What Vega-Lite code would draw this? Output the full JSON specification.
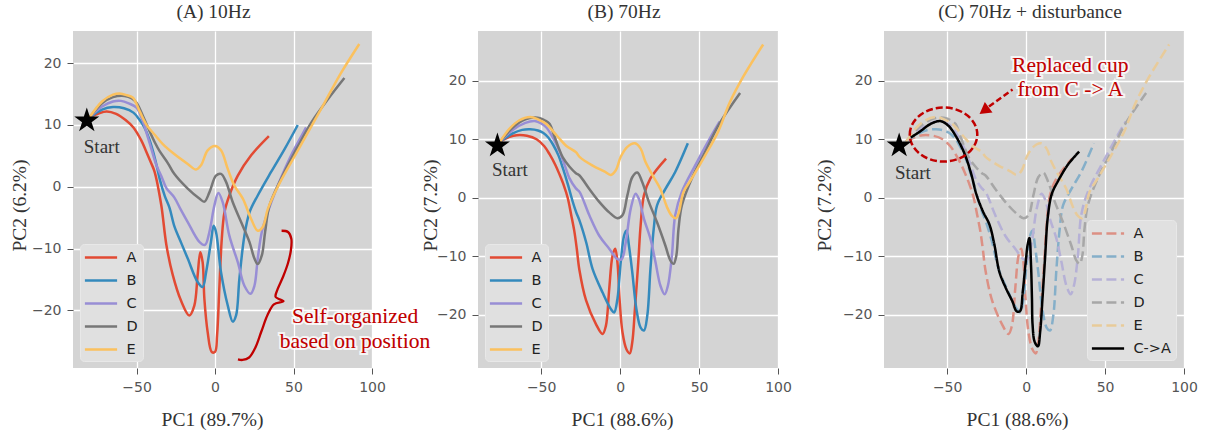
{
"$schema": "https://vega.github.io/schema/vega-lite/v6.json",
"background": "white",
"padding": {"left": 9, "top": 1, "right": 5, "bottom": 5},
"config": {
  "view": {"fill": "#d4d4d4", "stroke": null},
  "axis": {"labelFont": "DejaVu Sans", "labelFontSize": 14, "labelColor": "#555", "tickColor": "#555", "tickSize": 6, "labelPadding": 6, "labelFlush": false, "domain": false, "gridColor": "white", "gridWidth": 1.3, "titleFont": "Liberation Serif", "titleFontSize": 19.5, "titleFontWeight": "normal", "titleColor": "#333"},
  "title": {"font": "Liberation Serif", "fontSize": 19.5, "fontWeight": "normal", "color": "#333", "offset": 9},
  "legend": {"fillColor": "#e0e0e0", "strokeColor": "#e8e8e8", "cornerRadius": 4, "padding": 5, "symbolType": "M-2.3,0L2.3,0", "symbolSize": 196, "symbolOffset": 7.5, "symbolStrokeWidth": 2.5, "labelFont": "DejaVu Sans", "labelFontSize": 14.5, "labelColor": "#222", "rowPadding": 8, "labelOffset": 17},
  "line": {"strokeWidth": 2.5, "interpolate": "catmull-rom"}
},
"datasets": {
 "A10": [
{"s":"A","i":0,"x":-80,"y":11.2},{"s":"A","i":1,"x":-74,"y":11.9},{"s":"A","i":2,"x":-69,"y":12.2},{"s":"A","i":3,"x":-63,"y":11.8},{"s":"A","i":4,"x":-57,"y":10.8},{"s":"A","i":5,"x":-52,"y":9.6},{"s":"A","i":6,"x":-47,"y":7.5},{"s":"A","i":7,"x":-44,"y":5.8},{"s":"A","i":8,"x":-41,"y":4},{"s":"A","i":9,"x":-38.6,"y":2.5},{"s":"A","i":10,"x":-34.3,"y":-2.9},{"s":"A","i":11,"x":-31,"y":-9.4},{"s":"A","i":12,"x":-27,"y":-14.2},{"s":"A","i":13,"x":-21.7,"y":-18.4},{"s":"A","i":14,"x":-16.4,"y":-20.8},{"s":"A","i":15,"x":-13.2,"y":-19.2},{"s":"A","i":16,"x":-11.1,"y":-14.3},{"s":"A","i":17,"x":-9.4,"y":-10.6},{"s":"A","i":18,"x":-7.9,"y":-12.2},{"s":"A","i":19,"x":-6.8,"y":-18.1},{"s":"A","i":20,"x":-4.7,"y":-23.5},{"s":"A","i":21,"x":-2.1,"y":-26.7},{"s":"A","i":22,"x":0,"y":-26.7},{"s":"A","i":23,"x":1.3,"y":-24},{"s":"A","i":24,"x":2.8,"y":-16},{"s":"A","i":25,"x":4.3,"y":-8.4},{"s":"A","i":26,"x":6,"y":-4.1},{"s":"A","i":27,"x":9.1,"y":-1.4},{"s":"A","i":28,"x":14.5,"y":1.8},{"s":"A","i":29,"x":23,"y":5.1},{"s":"A","i":30,"x":34.3,"y":8.2},
{"s":"B","i":0,"x":-80,"y":11.2},{"s":"B","i":1,"x":-72,"y":12.5},{"s":"B","i":2,"x":-65,"y":12.9},{"s":"B","i":3,"x":-58,"y":12.7},{"s":"B","i":4,"x":-52,"y":12},{"s":"B","i":5,"x":-48,"y":10.8},{"s":"B","i":6,"x":-45,"y":9.6},{"s":"B","i":7,"x":-42,"y":7.8},{"s":"B","i":8,"x":-39.6,"y":5.8},{"s":"B","i":9,"x":-37,"y":3.2},{"s":"B","i":10,"x":-35,"y":1},{"s":"B","i":11,"x":-32,"y":-1.5},{"s":"B","i":12,"x":-29,"y":-3.4},{"s":"B","i":13,"x":-26,"y":-6.3},{"s":"B","i":14,"x":-22,"y":-8.8},{"s":"B","i":15,"x":-17.4,"y":-11.6},{"s":"B","i":16,"x":-11.1,"y":-15.4},{"s":"B","i":17,"x":-7.9,"y":-16.2},{"s":"B","i":18,"x":-5.7,"y":-13.8},{"s":"B","i":19,"x":-2.6,"y":-8.9},{"s":"B","i":20,"x":-0.9,"y":-6.3},{"s":"B","i":21,"x":0.6,"y":-7.3},{"s":"B","i":22,"x":3.8,"y":-13.8},{"s":"B","i":23,"x":8.1,"y":-19.2},{"s":"B","i":24,"x":11.3,"y":-21.8},{"s":"B","i":25,"x":13.4,"y":-20.8},{"s":"B","i":26,"x":15.5,"y":-14.9},{"s":"B","i":27,"x":18.7,"y":-7.9},{"s":"B","i":28,"x":22,"y":-4.1},{"s":"B","i":29,"x":27.2,"y":-1.4},{"s":"B","i":30,"x":35.7,"y":2.4},{"s":"B","i":31,"x":44.3,"y":6.1},{"s":"B","i":32,"x":52.7,"y":10},
{"s":"C","i":0,"x":-80,"y":11.2},{"s":"C","i":1,"x":-72,"y":13},{"s":"C","i":2,"x":-65,"y":13.8},{"s":"C","i":3,"x":-60,"y":13.9},{"s":"C","i":4,"x":-55,"y":13.5},{"s":"C","i":5,"x":-50,"y":12.8},{"s":"C","i":6,"x":-46,"y":10.6},{"s":"C","i":7,"x":-44,"y":9},{"s":"C","i":8,"x":-41,"y":6.5},{"s":"C","i":9,"x":-37.5,"y":3.6},{"s":"C","i":10,"x":-34,"y":1.6},{"s":"C","i":11,"x":-31,"y":-0.2},{"s":"C","i":12,"x":-26,"y":-1.7},{"s":"C","i":13,"x":-22,"y":-3.6},{"s":"C","i":14,"x":-17.4,"y":-5.7},{"s":"C","i":15,"x":-10,"y":-8.9},{"s":"C","i":16,"x":-6.4,"y":-9.4},{"s":"C","i":17,"x":-3.6,"y":-7.3},{"s":"C","i":18,"x":-0.4,"y":-3},{"s":"C","i":19,"x":2.1,"y":-1},{"s":"C","i":20,"x":4.9,"y":-2.5},{"s":"C","i":21,"x":9.1,"y":-7.9},{"s":"C","i":22,"x":14.5,"y":-12.2},{"s":"C","i":23,"x":18.7,"y":-16},{"s":"C","i":24,"x":22.6,"y":-17.3},{"s":"C","i":25,"x":25.1,"y":-16},{"s":"C","i":26,"x":27.2,"y":-11.6},{"s":"C","i":27,"x":29.8,"y":-7.3},{"s":"C","i":28,"x":33.6,"y":-4.1},{"s":"C","i":29,"x":40,"y":0.2},{"s":"C","i":30,"x":48.5,"y":5.1},{"s":"C","i":31,"x":55.2,"y":8.3},{"s":"C","i":32,"x":58,"y":9.6},
{"s":"D","i":0,"x":-80,"y":11.2},{"s":"D","i":1,"x":-72,"y":13.5},{"s":"D","i":2,"x":-65,"y":14.5},{"s":"D","i":3,"x":-57.6,"y":14.7},{"s":"D","i":4,"x":-53,"y":14.3},{"s":"D","i":5,"x":-50,"y":13.6},{"s":"D","i":6,"x":-46,"y":11.5},{"s":"D","i":7,"x":-41.7,"y":9},{"s":"D","i":8,"x":-38,"y":7},{"s":"D","i":9,"x":-35.4,"y":5.8},{"s":"D","i":10,"x":-30,"y":3.8},{"s":"D","i":11,"x":-26,"y":2.1},{"s":"D","i":12,"x":-17.4,"y":-0.3},{"s":"D","i":13,"x":-10,"y":-1.9},{"s":"D","i":14,"x":-6.8,"y":-2.4},{"s":"D","i":15,"x":-3.6,"y":-0.9},{"s":"D","i":16,"x":0.6,"y":1.8},{"s":"D","i":17,"x":3.8,"y":2.1},{"s":"D","i":18,"x":7,"y":0.8},{"s":"D","i":19,"x":11.3,"y":-2.5},{"s":"D","i":20,"x":16.6,"y":-5.7},{"s":"D","i":21,"x":21.9,"y":-8.9},{"s":"D","i":22,"x":25.1,"y":-11.6},{"s":"D","i":23,"x":27.2,"y":-12.5},{"s":"D","i":24,"x":29.8,"y":-11.1},{"s":"D","i":25,"x":31.9,"y":-7.3},{"s":"D","i":26,"x":34.7,"y":-3},{"s":"D","i":27,"x":42.1,"y":1.3},{"s":"D","i":28,"x":53.1,"y":6.7},{"s":"D","i":29,"x":61.6,"y":10.5},{"s":"D","i":30,"x":72,"y":14.2},{"s":"D","i":31,"x":82.4,"y":17.6},
{"s":"E","i":0,"x":-80,"y":11.2},{"s":"E","i":1,"x":-72,"y":13.8},{"s":"E","i":2,"x":-65,"y":14.9},{"s":"E","i":3,"x":-60.8,"y":15.1},{"s":"E","i":4,"x":-56,"y":14.8},{"s":"E","i":5,"x":-52.3,"y":14.4},{"s":"E","i":6,"x":-48,"y":12.2},{"s":"E","i":7,"x":-43.9,"y":10.1},{"s":"E","i":8,"x":-38,"y":8.3},{"s":"E","i":9,"x":-33.3,"y":6.9},{"s":"E","i":10,"x":-26,"y":5.3},{"s":"E","i":11,"x":-17.4,"y":3.7},{"s":"E","i":12,"x":-12.1,"y":2.8},{"s":"E","i":13,"x":-8.9,"y":3.5},{"s":"E","i":14,"x":-4.7,"y":5.9},{"s":"E","i":15,"x":0,"y":6.6},{"s":"E","i":16,"x":3.8,"y":5.9},{"s":"E","i":17,"x":8.1,"y":2.9},{"s":"E","i":18,"x":12.3,"y":0.2},{"s":"E","i":19,"x":17.7,"y":-1.9},{"s":"E","i":20,"x":23,"y":-5.2},{"s":"E","i":21,"x":27.2,"y":-7.1},{"s":"E","i":22,"x":30.4,"y":-6.5},{"s":"E","i":23,"x":33.6,"y":-3.6},{"s":"E","i":24,"x":40.3,"y":0.2},{"s":"E","i":25,"x":51,"y":5.1},{"s":"E","i":26,"x":61.6,"y":9.9},{"s":"E","i":27,"x":70,"y":13.7},{"s":"E","i":28,"x":80,"y":18.3},{"s":"E","i":29,"x":91.9,"y":23.1}
 ],
 "B70": [
{"s":"A","i":0,"x":-76,"y":9.6},{"s":"A","i":1,"x":-70,"y":10.4},{"s":"A","i":2,"x":-65.4,"y":10.7},{"s":"A","i":3,"x":-59,"y":10.6},{"s":"A","i":4,"x":-52.9,"y":10},{"s":"A","i":5,"x":-48,"y":8.8},{"s":"A","i":6,"x":-44.6,"y":7.4},{"s":"A","i":7,"x":-41,"y":5.6},{"s":"A","i":8,"x":-38.4,"y":4},{"s":"A","i":9,"x":-35.5,"y":2},{"s":"A","i":10,"x":-33.2,"y":0},{"s":"A","i":11,"x":-31,"y":-2.9},{"s":"A","i":12,"x":-29,"y":-5.7},{"s":"A","i":13,"x":-27.4,"y":-8.8},{"s":"A","i":14,"x":-25.8,"y":-12.3},{"s":"A","i":15,"x":-21.6,"y":-17.5},{"s":"A","i":16,"x":-15.3,"y":-21.6},{"s":"A","i":17,"x":-11.1,"y":-23.3},{"s":"A","i":18,"x":-9,"y":-21.9},{"s":"A","i":19,"x":-6.9,"y":-15.6},{"s":"A","i":20,"x":-4.8,"y":-9.9},{"s":"A","i":21,"x":-3.1,"y":-8.7},{"s":"A","i":22,"x":-1.7,"y":-11},{"s":"A","i":23,"x":-0.2,"y":-17.9},{"s":"A","i":24,"x":1.5,"y":-23},{"s":"A","i":25,"x":4,"y":-25.9},{"s":"A","i":26,"x":6.1,"y":-26.6},{"s":"A","i":27,"x":7.7,"y":-24.7},{"s":"A","i":28,"x":9.4,"y":-19},{"s":"A","i":29,"x":11.5,"y":-11},{"s":"A","i":30,"x":13,"y":-4.7},{"s":"A","i":31,"x":15.1,"y":0.4},{"s":"A","i":32,"x":19.2,"y":3.3},{"s":"A","i":33,"x":29.1,"y":6.7},
{"s":"B","i":0,"x":-76,"y":9.6},{"s":"B","i":1,"x":-68,"y":11},{"s":"B","i":2,"x":-62,"y":11.6},{"s":"B","i":3,"x":-57,"y":11.7},{"s":"B","i":4,"x":-52,"y":11.5},{"s":"B","i":5,"x":-48.8,"y":11.1},{"s":"B","i":6,"x":-45.5,"y":10.3},{"s":"B","i":7,"x":-42.5,"y":9.1},{"s":"B","i":8,"x":-39,"y":7.2},{"s":"B","i":9,"x":-36.3,"y":5.1},{"s":"B","i":10,"x":-33,"y":2.2},{"s":"B","i":11,"x":-30.1,"y":-0.6},{"s":"B","i":12,"x":-27.8,"y":-2.5},{"s":"B","i":13,"x":-25.7,"y":-3.9},{"s":"B","i":14,"x":-21.5,"y":-7.6},{"s":"B","i":15,"x":-17.4,"y":-12.2},{"s":"B","i":16,"x":-11.1,"y":-16.2},{"s":"B","i":17,"x":-5.9,"y":-19},{"s":"B","i":18,"x":-3.8,"y":-19.6},{"s":"B","i":19,"x":-1.7,"y":-17.3},{"s":"B","i":20,"x":0.4,"y":-11},{"s":"B","i":21,"x":2.5,"y":-6.5},{"s":"B","i":22,"x":4,"y":-5.6},{"s":"B","i":23,"x":5.6,"y":-8.2},{"s":"B","i":24,"x":7.7,"y":-12.7},{"s":"B","i":25,"x":10.3,"y":-19},{"s":"B","i":26,"x":13,"y":-22.2},{"s":"B","i":27,"x":15.1,"y":-22.7},{"s":"B","i":28,"x":17.2,"y":-20.2},{"s":"B","i":29,"x":19.2,"y":-12.2},{"s":"B","i":30,"x":21.3,"y":-5.3},{"s":"B","i":31,"x":23.4,"y":-1.3},{"s":"B","i":32,"x":28.7,"y":1.5},{"s":"B","i":33,"x":34.9,"y":4.4},{"s":"B","i":34,"x":42.9,"y":9.3},
{"s":"C","i":0,"x":-76,"y":9.6},{"s":"C","i":1,"x":-68,"y":11.6},{"s":"C","i":2,"x":-60,"y":12.8},{"s":"C","i":3,"x":-54,"y":13.1},{"s":"C","i":4,"x":-50,"y":12.7},{"s":"C","i":5,"x":-46.7,"y":12},{"s":"C","i":6,"x":-42,"y":10},{"s":"C","i":7,"x":-38.4,"y":8},{"s":"C","i":8,"x":-35,"y":5.5},{"s":"C","i":9,"x":-32.2,"y":3.4},{"s":"C","i":10,"x":-28,"y":1.6},{"s":"C","i":11,"x":-25.7,"y":1},{"s":"C","i":12,"x":-19.5,"y":-3},{"s":"C","i":13,"x":-13.2,"y":-6.5},{"s":"C","i":14,"x":-6.9,"y":-8.7},{"s":"C","i":15,"x":-1.7,"y":-10.5},{"s":"C","i":16,"x":1,"y":-10.5},{"s":"C","i":17,"x":3.6,"y":-7.6},{"s":"C","i":18,"x":6.7,"y":-1.9},{"s":"C","i":19,"x":9.8,"y":0.7},{"s":"C","i":20,"x":11.9,"y":-0.2},{"s":"C","i":21,"x":15.1,"y":-3.6},{"s":"C","i":22,"x":19.2,"y":-7},{"s":"C","i":23,"x":22.4,"y":-11},{"s":"C","i":24,"x":25.5,"y":-15},{"s":"C","i":25,"x":28.2,"y":-16.5},{"s":"C","i":26,"x":30.3,"y":-15},{"s":"C","i":27,"x":32.8,"y":-9.9},{"s":"C","i":28,"x":34.9,"y":-3},{"s":"C","i":29,"x":39.1,"y":1},{"s":"C","i":30,"x":47.5,"y":5.5},{"s":"C","i":31,"x":58,"y":10.7},{"s":"C","i":32,"x":63,"y":13},
{"s":"D","i":0,"x":-76,"y":9.6},{"s":"D","i":1,"x":-68,"y":12},{"s":"D","i":2,"x":-60,"y":13.4},{"s":"D","i":3,"x":-54,"y":13.7},{"s":"D","i":4,"x":-50.8,"y":13.6},{"s":"D","i":5,"x":-47.5,"y":13.2},{"s":"D","i":6,"x":-44.6,"y":12.6},{"s":"D","i":7,"x":-42,"y":10.8},{"s":"D","i":8,"x":-39,"y":8.6},{"s":"D","i":9,"x":-36.3,"y":6.9},{"s":"D","i":10,"x":-32,"y":5.3},{"s":"D","i":11,"x":-28,"y":4.2},{"s":"D","i":12,"x":-25.7,"y":3.8},{"s":"D","i":13,"x":-19.5,"y":1.5},{"s":"D","i":14,"x":-13.2,"y":-0.7},{"s":"D","i":15,"x":-6.9,"y":-2.5},{"s":"D","i":16,"x":-1.7,"y":-3.5},{"s":"D","i":17,"x":1.5,"y":-3},{"s":"D","i":18,"x":4.6,"y":0.4},{"s":"D","i":19,"x":7.7,"y":3.5},{"s":"D","i":20,"x":10.9,"y":4.3},{"s":"D","i":21,"x":14,"y":2.7},{"s":"D","i":22,"x":18.2,"y":-0.7},{"s":"D","i":23,"x":23.4,"y":-4.2},{"s":"D","i":24,"x":28.7,"y":-8.2},{"s":"D","i":25,"x":31.8,"y":-10.7},{"s":"D","i":26,"x":33.9,"y":-11.3},{"s":"D","i":27,"x":35.6,"y":-9.9},{"s":"D","i":28,"x":37,"y":-5.3},{"s":"D","i":29,"x":39.1,"y":-1.3},{"s":"D","i":30,"x":45.4,"y":3.3},{"s":"D","i":31,"x":53.8,"y":7.8},{"s":"D","i":32,"x":63,"y":12.7},{"s":"D","i":33,"x":76,"y":17.9},
{"s":"E","i":0,"x":-76,"y":9.6},{"s":"E","i":1,"x":-70,"y":11.8},{"s":"E","i":2,"x":-64,"y":13.2},{"s":"E","i":3,"x":-57,"y":13.8},{"s":"E","i":4,"x":-52,"y":13.4},{"s":"E","i":5,"x":-46.7,"y":12.6},{"s":"E","i":6,"x":-40,"y":10.6},{"s":"E","i":7,"x":-34.2,"y":8.9},{"s":"E","i":8,"x":-28,"y":7.8},{"s":"E","i":9,"x":-25.7,"y":7},{"s":"E","i":10,"x":-17.4,"y":5.5},{"s":"E","i":11,"x":-10,"y":4.5},{"s":"E","i":12,"x":-5.9,"y":3.9},{"s":"E","i":13,"x":-2.7,"y":4.7},{"s":"E","i":14,"x":0.4,"y":7},{"s":"E","i":15,"x":4.6,"y":8.7},{"s":"E","i":16,"x":9.4,"y":9.3},{"s":"E","i":17,"x":13,"y":8.4},{"s":"E","i":18,"x":16.1,"y":6.1},{"s":"E","i":19,"x":21.3,"y":3.5},{"s":"E","i":20,"x":25.5,"y":1.5},{"s":"E","i":21,"x":29.7,"y":-1.6},{"s":"E","i":22,"x":32.8,"y":-3.1},{"s":"E","i":23,"x":35.4,"y":-3.5},{"s":"E","i":24,"x":37,"y":-2.7},{"s":"E","i":25,"x":40.2,"y":1},{"s":"E","i":26,"x":45.4,"y":3.3},{"s":"E","i":27,"x":53.8,"y":7.2},{"s":"E","i":28,"x":62.1,"y":11.3},{"s":"E","i":29,"x":69.5,"y":16.3},{"s":"E","i":30,"x":77.8,"y":20.6},{"s":"E","i":31,"x":90.6,"y":26.2}
 ],
 "CA": [
{"s":"C->A","i":0,"x":-73,"y":10.3},{"s":"C->A","i":1,"x":-66.8,"y":11.4},{"s":"C->A","i":2,"x":-60.6,"y":12.6},{"s":"C->A","i":3,"x":-54.4,"y":13.1},{"s":"C->A","i":4,"x":-49.2,"y":12.3},{"s":"C->A","i":5,"x":-44,"y":10.3},{"s":"C->A","i":6,"x":-38.8,"y":7.4},{"s":"C->A","i":7,"x":-34.7,"y":4},{"s":"C->A","i":8,"x":-31.5,"y":0.6},{"s":"C->A","i":9,"x":-27.4,"y":-2.3},{"s":"C->A","i":10,"x":-23.2,"y":-4.6},{"s":"C->A","i":11,"x":-20.1,"y":-8},{"s":"C->A","i":12,"x":-17,"y":-12.6},{"s":"C->A","i":13,"x":-12.9,"y":-15.4},{"s":"C->A","i":14,"x":-8.7,"y":-17.7},{"s":"C->A","i":15,"x":-6,"y":-19.4},{"s":"C->A","i":16,"x":-3.9,"y":-19.4},{"s":"C->A","i":17,"x":-2.1,"y":-16},{"s":"C->A","i":18,"x":-0.4,"y":-11.4},{"s":"C->A","i":19,"x":1,"y":-8},{"s":"C->A","i":20,"x":2.1,"y":-6.9},{"s":"C->A","i":21,"x":3.1,"y":-11.4},{"s":"C->A","i":22,"x":3.7,"y":-17.1},{"s":"C->A","i":23,"x":4.1,"y":-21.7},{"s":"C->A","i":24,"x":5.4,"y":-24.6},{"s":"C->A","i":25,"x":7.5,"y":-25.4},{"s":"C->A","i":26,"x":8.9,"y":-22.9},{"s":"C->A","i":27,"x":10.4,"y":-17.1},{"s":"C->A","i":28,"x":12,"y":-10.3},{"s":"C->A","i":29,"x":13.7,"y":-3.4},{"s":"C->A","i":30,"x":16.2,"y":0.6},{"s":"C->A","i":31,"x":20.3,"y":2.9},{"s":"C->A","i":32,"x":26.6,"y":5.7},{"s":"C->A","i":33,"x":33.6,"y":7.9}
 ]
},
"spacing": 106,
"bounds": "flush",
"resolve": {"scale": {"color": "independent", "strokeDash": "independent"}, "legend": {"color": "independent", "strokeDash": "independent"}},
"hconcat": [
 {
  "width": 299, "height": 337,
  "title": {"text": "(A) 10Hz", "dx": -9},
  "encoding": {
    "x": {"field": "x", "type": "quantitative", "scale": {"domain": [-90.5, 100], "nice": false, "zero": false}, "axis": {"values": [-50, 0, 50, 100], "title": "PC1 (89.7%)", "titleX": 139, "titlePadding": 16}},
    "y": {"field": "y", "type": "quantitative", "scale": {"domain": [-29.3, 25.2], "nice": false, "zero": false}, "axis": {"values": [-20, -10, 0, 10, 20], "title": "PC2 (6.2%)", "titleX": -54, "titleY": 174, "titleBaseline": "middle"}}
  },
  "layer": [
    {"data": {"name": "A10"}, "mark": {"type": "line"},
     "encoding": {"color": {"field": "s", "type": "nominal", "scale": {"domain": ["A","B","C","D","E"], "range": ["#E24A33","#348ABD","#988ED5","#777777","#FBC15E"]}, "legend": {"orient": "bottom-left", "offset": 7, "title": null}},
                  "order": {"field": "i", "type": "quantitative"}}},
    {"data": {"values": [{"i":0,"x":42.4,"y":-7.1},{"i":1,"x":46.5,"y":-7.3},{"i":2,"x":48.6,"y":-8.4},{"i":3,"x":48.3,"y":-10.3},{"i":4,"x":46.4,"y":-12.4},{"i":5,"x":43.4,"y":-14.5},{"i":6,"x":39.8,"y":-16.6},{"i":7,"x":38.6,"y":-17.8},{"i":8,"x":43.6,"y":-18.5},{"i":9,"x":37.5,"y":-19},{"i":10,"x":33.5,"y":-20.7},{"i":11,"x":29.5,"y":-23.4},{"i":12,"x":25.5,"y":-26.1},{"i":13,"x":21.7,"y":-27.6},{"i":14,"x":17.5,"y":-28},{"i":15,"x":14.6,"y":-27.9}]},
     "mark": {"type": "line", "color": "#c00000", "strokeWidth": 2.3},
     "encoding": {"order": {"field": "i", "type": "quantitative"}}},
    {"data": {"values": [{"x": 89.2, "y": -21.0, "t": "Self-organized"}, {"x": 89.2, "y": -25.1, "t": "based on position"}]},
     "mark": {"type": "text", "font": "Liberation Serif", "fontSize": 21.5, "fill": "#c00000", "stroke": "white", "strokeWidth": 4, "strokeOpacity": 0.8, "align": "center", "baseline": "middle"},
     "encoding": {"text": {"field": "t"}}},
    {"data": {"values": [{"x": 89.2, "y": -21.0, "t": "Self-organized"}, {"x": 89.2, "y": -25.1, "t": "based on position"}]},
     "mark": {"type": "text", "font": "Liberation Serif", "fontSize": 21.5, "fill": "#c00000", "align": "center", "baseline": "middle"},
     "encoding": {"text": {"field": "t"}}},
    {"data": {"values": [{"x": -81.7, "y": 10.7}]},
     "mark": {"type": "point", "shape": "M0,-1L0.2245,-0.309L0.951,-0.309L0.363,0.118L0.588,0.809L0,0.382L-0.588,0.809L-0.363,0.118L-0.951,-0.309L-0.2245,-0.309Z", "size": 690, "filled": true, "color": "black", "opacity": 1}},
    {"data": {"values": [{"x": -72.2, "y": 6.4, "t": "Start"}]},
     "mark": {"type": "text", "font": "Liberation Serif", "fontSize": 19, "color": "#333", "align": "center", "baseline": "middle"},
     "encoding": {"text": {"field": "t"}}}
  ]
 },
 {
  "width": 300, "height": 337,
  "title": {"text": "(B) 70Hz", "dx": -4},
  "encoding": {
    "x": {"field": "x", "type": "quantitative", "scale": {"domain": [-90, 100], "nice": false, "zero": false}, "axis": {"values": [-50, 0, 50, 100], "title": "PC1 (88.6%)", "titleX": 144, "titlePadding": 16}},
    "y": {"field": "y", "type": "quantitative", "scale": {"domain": [-29.1, 28.5], "nice": false, "zero": false}, "axis": {"values": [-20, -10, 0, 10, 20], "title": "PC2 (7.2%)", "titleX": -48, "titleY": 174, "titleBaseline": "middle"}}
  },
  "layer": [
    {"data": {"name": "B70"}, "mark": {"type": "line"},
     "encoding": {"color": {"field": "s", "type": "nominal", "scale": {"domain": ["A","B","C","D","E"], "range": ["#E24A33","#348ABD","#988ED5","#777777","#FBC15E"]}, "legend": {"orient": "bottom-left", "offset": 7, "title": null}},
                  "order": {"field": "i", "type": "quantitative"}}},
    {"data": {"values": [{"x": -77.7, "y": 8.9}]},
     "mark": {"type": "point", "shape": "M0,-1L0.2245,-0.309L0.951,-0.309L0.363,0.118L0.588,0.809L0,0.382L-0.588,0.809L-0.363,0.118L-0.951,-0.309L-0.2245,-0.309Z", "size": 690, "filled": true, "color": "black", "opacity": 1}},
    {"data": {"values": [{"x": -69.8, "y": 4.7, "t": "Start"}]},
     "mark": {"type": "text", "font": "Liberation Serif", "fontSize": 19, "color": "#333", "align": "center", "baseline": "middle"},
     "encoding": {"text": {"field": "t"}}}
  ]
 },
 {
  "width": 300, "height": 337,
  "title": {"text": "(C) 70Hz + disturbance", "dx": -4},
  "encoding": {
    "x": {"field": "x", "type": "quantitative", "scale": {"domain": [-90, 100], "nice": false, "zero": false}, "axis": {"values": [-50, 0, 50, 100], "title": "PC1 (88.6%)", "titleX": 133, "titlePadding": 16}},
    "y": {"field": "y", "type": "quantitative", "scale": {"domain": [-29.1, 28.5], "nice": false, "zero": false}, "axis": {"values": [-20, -10, 0, 10, 20], "title": "PC2 (7.2%)", "titleX": -60, "titleY": 174, "titleBaseline": "middle"}}
  },
  "layer": [
    {"data": {"name": "B70"}, "mark": {"type": "line"},
     "encoding": {
       "color": {"field": "s", "type": "nominal", "scale": {"domain": ["A","B","C","D","E","C->A"], "range": ["#dc9084","#85afc9","#b6b1d6","#a7a7a7","#e8cb9a","#000000"]}, "legend": {"orient": "bottom-right", "offset": 8, "title": null}},
       "strokeDash": {"field": "s", "type": "nominal", "scale": {"domain": ["A","B","C","D","E","C->A"], "range": [[10,4.5],[10,4.5],[10,4.5],[10,4.5],[10,4.5],[1,0]]}, "legend": {"orient": "bottom-right", "offset": 8, "title": null}},
       "order": {"field": "i", "type": "quantitative"}}},
    {"data": {"name": "CA"}, "mark": {"type": "line"},
     "encoding": {
       "color": {"field": "s", "type": "nominal"},
       "strokeDash": {"field": "s", "type": "nominal"},
       "order": {"field": "i", "type": "quantitative"}}},
    {"data": {"values": [{"x": -52.3, "y": 10.8}]},
     "mark": {"type": "point", "shape": "M-1,0C-1,-0.4418,-0.5523,-0.8,0,-0.8C0.5523,-0.8,1,-0.4418,1,0C1,0.4418,0.5523,0.8,0,0.8C-0.5523,0.8,-1,0.4418,-1,0Z", "size": 4556, "filled": false, "stroke": "#c00000", "strokeWidth": 2.5, "strokeDash": [7, 3], "opacity": 1}},
    {"data": {"values": [{"x": -8.6, "y": 18.5}, {"x": -23.5, "y": 15.6}]},
     "mark": {"type": "line", "color": "#c00000", "strokeWidth": 2.5, "strokeDash": [6, 3], "interpolate": "linear"},
     "encoding": {}},
    {"data": {"values": [{"x": -26.6, "y": 14.9}]},
     "mark": {"type": "point", "shape": "triangle-up", "size": 170, "filled": true, "color": "#c00000", "opacity": 1, "angle": 234}},
    {"data": {"values": [{"x": 28, "y": 22.6, "t": "Replaced cup"}, {"x": 28, "y": 18.5, "t": "from C -> A"}]},
     "mark": {"type": "text", "font": "Liberation Serif", "fontSize": 21.5, "fill": "#c00000", "stroke": "white", "strokeWidth": 4, "strokeOpacity": 0.8, "align": "center", "baseline": "middle"},
     "encoding": {"text": {"field": "t"}}},
    {"data": {"values": [{"x": 28, "y": 22.6, "t": "Replaced cup"}, {"x": 28, "y": 18.5, "t": "from C -> A"}]},
     "mark": {"type": "text", "font": "Liberation Serif", "fontSize": 21.5, "fill": "#c00000", "align": "center", "baseline": "middle"},
     "encoding": {"text": {"field": "t"}}},
    {"data": {"values": [{"x": -80.4, "y": 8.9}]},
     "mark": {"type": "point", "shape": "M0,-1L0.2245,-0.309L0.951,-0.309L0.363,0.118L0.588,0.809L0,0.382L-0.588,0.809L-0.363,0.118L-0.951,-0.309L-0.2245,-0.309Z", "size": 690, "filled": true, "color": "black", "opacity": 1}},
    {"data": {"values": [{"x": -71.7, "y": 4.3, "t": "Start"}]},
     "mark": {"type": "text", "font": "Liberation Serif", "fontSize": 19, "color": "#333", "align": "center", "baseline": "middle"},
     "encoding": {"text": {"field": "t"}}}
  ]
 }
]
}
